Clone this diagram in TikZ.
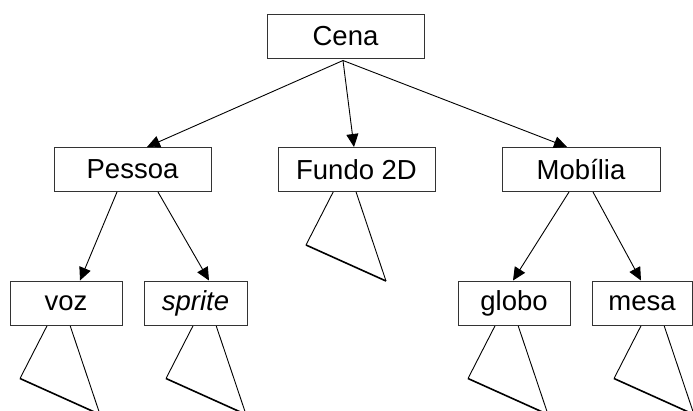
\documentclass[tikz,border=0pt]{standalone}
\usepackage{fontspec}
\setmainfont{Liberation Sans}
\usetikzlibrary{arrows.meta,backgrounds}
\begin{document}
\begin{tikzpicture}[x=1pt,y=-1pt,
  box/.style={draw=black!80,line width=1pt,fill=white,rectangle,
    minimum height=44pt,inner sep=0pt,font=\fontsize{27.5}{33}\selectfont},
  link/.style={line width=0.9pt,-{Triangle[length=13pt,width=12pt]}},
  subtree/.pic={
    \draw[line width=0.9pt] (-27,53) -- (14,-27) -- (53,89);
    \draw[line width=1.6pt] (-27,53) -- (53,89);
  }]
\clip (0,0) rectangle (693,410);
\useasboundingbox (0,0) rectangle (693,410);

% tree nodes
\node[box,minimum width=157pt] (cena)   at (345.5,36)  {Cena};
\node[box,minimum width=157pt] (pessoa) at (132.5,169.5) {Pessoa};
\node[box,minimum width=157pt] (fundo)  at (356.5,169.5) {Fundo 2D};
\node[box,minimum width=158pt] (mobil)  at (581,169.5) {Mobília};
\node[box,minimum width=112pt] (voz)    at (66,303)  {voz};
\node[box,minimum width=103pt] (sprite) at (195.5,303) {\itshape sprite};
\node[box,minimum width=112pt] (globo)  at (514,303) {globo};
\node[box,minimum width=100pt] (mesa)   at (642,303) {mesa};

% collapsed subtrees behind the leaves
\begin{scope}[on background layer]
  \pic at ([xshift=-19pt]voz.south)    {subtree};
  \pic at ([xshift=-2.5pt]sprite.south) {subtree};
  \pic at ([xshift=-23.5pt]fundo.south) {subtree};
  \pic at ([xshift=-19pt]globo.south)  {subtree};
  \pic at ([xshift=-1pt]mesa.south)    {subtree};
\end{scope}

% edges
\coordinate (root) at ([xshift=-2.5pt,yshift=-2pt]cena.south);
\draw[link] (root) -- ([xshift=14.5pt]pessoa.north);
\draw[link] (root) -- ([xshift=-2.5pt]fundo.north);
\draw[link] (root) -- ([xshift=-14pt]mobil.north);
\draw[link] ([xshift=-15.5pt]pessoa.south) -- ([xshift=14pt]voz.north);
\draw[link] ([xshift=25.5pt]pessoa.south) -- ([xshift=13.5pt]sprite.north);
\draw[link] ([xshift=-12pt]mobil.south) -- ([xshift=-1pt]globo.north);
\draw[link] ([xshift=12pt]mobil.south) -- ([xshift=-1pt]mesa.north);
\end{tikzpicture}
\end{document}
